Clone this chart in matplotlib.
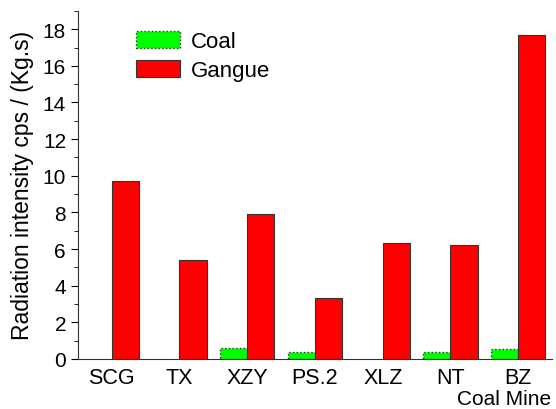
import numpy as np
import matplotlib
matplotlib.use("Agg")
import matplotlib.pyplot as plt
from matplotlib.ticker import MultipleLocator

plt.rcParams['font.family'] = ['Liberation Sans', 'DejaVu Sans']

mines = ["SCG", "TX", "XZY", "PS.2", "XLZ", "NT", "BZ"]
coal = [0.0, 0.0, 0.6, 0.38, 0.0, 0.4, 0.55]
gangue = [9.7, 5.4, 7.93, 3.32, 6.35, 6.2, 17.68]

x = np.arange(1, len(mines) + 1)
w = 0.4

fig = plt.figure(figsize=(5.56, 4.10), dpi=100)
ax = fig.add_axes([0.140, 0.122, 0.853, 0.849])

# zero values are not drawn in the original (no empty outline)
coal_plot = np.where(np.array(coal) > 0, coal, np.nan)
ax.bar(x - w / 2, coal_plot, w, color="#00ff00", edgecolor="#333333",
       linestyle=":", linewidth=1.0, label="Coal")
ax.bar(x + w / 2, gangue, w, color="#ff0000", edgecolor="#333333",
       linewidth=0.8, label="Gangue")

ax.set_xlim(0.5, 7.5)
ax.set_ylim(0, 19)
ax.set_xticks(x)
ax.set_xticklabels(mines, fontsize=15.5)
ax.tick_params(axis="x", length=0, pad=6)
ax.yaxis.set_major_locator(MultipleLocator(2))
ax.yaxis.set_minor_locator(MultipleLocator(1))
ax.tick_params(axis="y", which="major", labelsize=15, length=5, direction="out")
ax.tick_params(axis="y", which="minor", length=3, direction="out")

for s in ["top", "right"]:
    ax.spines[s].set_visible(False)
for s in ["left", "bottom"]:
    ax.spines[s].set_color("#333333")

ax.set_ylabel("Radiation intensity cps / (Kg.s)", fontsize=16.5, labelpad=6)
ax.set_xlabel("Coal Mine", fontsize=15)
ax.xaxis.set_label_coords(0.998, -0.085)
ax.xaxis.label.set_horizontalalignment("right")

ax.legend(loc="upper left", bbox_to_anchor=(0.08, 1.0), frameon=False,
          fontsize=16, handlelength=2.0, handleheight=0.8, labelspacing=0.35,
          handletextpad=0.5)

fig.savefig("out.png", dpi=100)
